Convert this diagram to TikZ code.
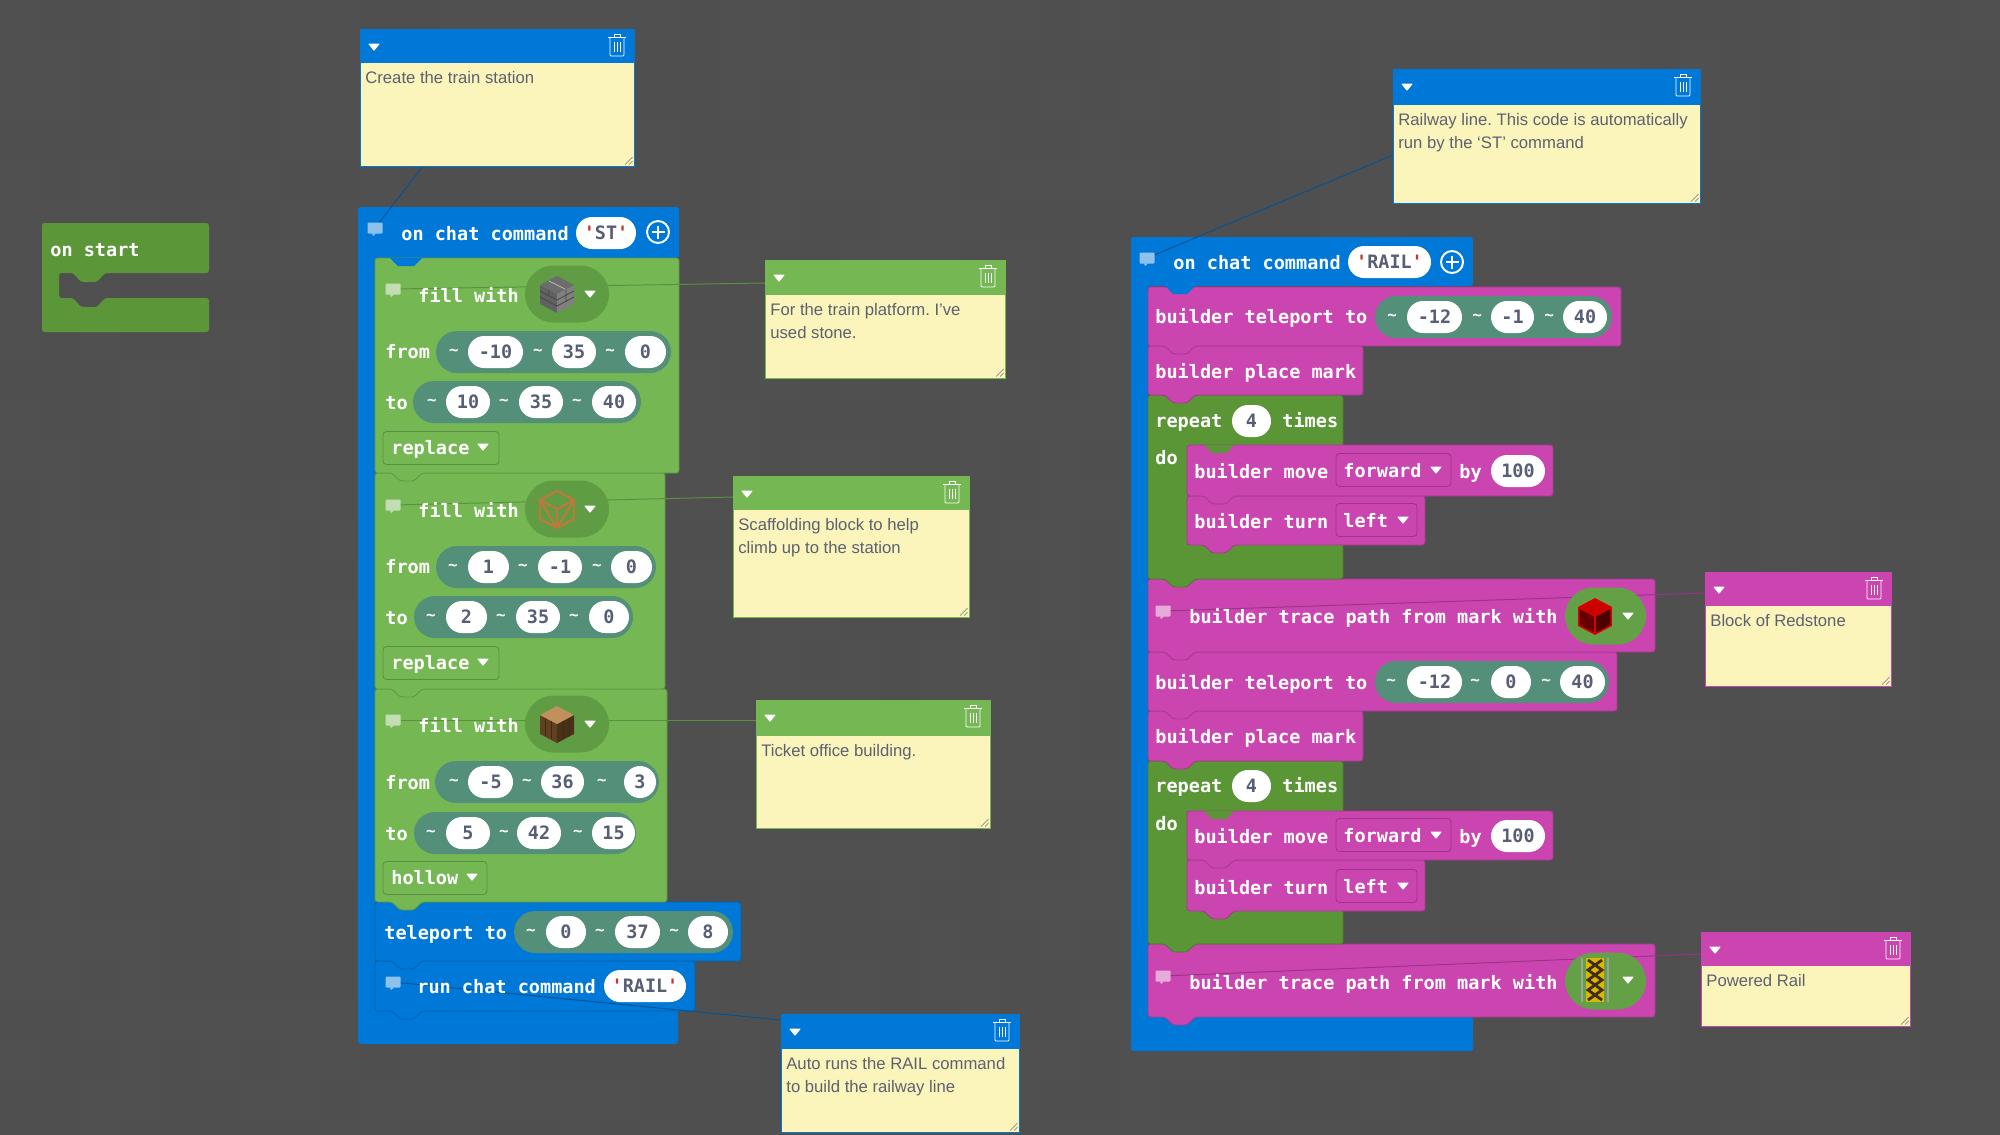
\documentclass[tikz,border=0pt]{standalone}
\usepackage{fontspec}
\usetikzlibrary{shapes.misc}
\setmainfont{Liberation Sans}
\newfontfamily\blockfont{DejaVu Sans Mono}
\frenchspacing
\definecolor{bgc}{HTML}{505050}
\definecolor{bluec}{HTML}{0078D7}
\definecolor{grnc}{HTML}{75B853}
\definecolor{dgrn}{HTML}{5F9C43}
\definecolor{lgrn}{HTML}{64A146}
\definecolor{tealc}{HTML}{548F7A}
\definecolor{pinkc}{HTML}{CB45B0}
\definecolor{repc}{HTML}{5A9636}
\definecolor{startc}{HTML}{5B9738}
\definecolor{notec}{HTML}{FBF5BC}
\definecolor{notetxt}{HTML}{5C6070}
\definecolor{pilltxt}{HTML}{575E75}
\definecolor{quotec}{HTML}{C0392B}
\definecolor{scaffc}{HTML}{B57C40}
\newdimen\px \px=0.02cm
\tikzset{
  blocktext/.style={font=\blockfont\bfseries\fontsize{10.55}{12}\selectfont,text=white,inner sep=0pt,anchor=mid west,yshift=-2*\px},
  tildetext/.style={font=\blockfont\bfseries\fontsize{9}{12}\selectfont,text=white,inner sep=0pt},
  pillnode/.style={rounded rectangle,fill=white,inner sep=0pt,font=\blockfont\bfseries\fontsize{10.5}{12}\selectfont,text=pilltxt},
  notetext/.style={font=\fontsize{9.5}{13}\selectfont,text=notetxt,inner sep=0pt,anchor=north west,align=left},
  conn/.style={line width=0.55pt},
}
\newcommand\blk[6]{\draw[fill=#5,draw=#5!82!black,line width=0.5pt,rounded corners=1.5pt]
  (#1,#2) -- (#3,#2) -- (#3,#4) -- ({#6+47},#4) -- ({#6+39},{#4+8}) -- ({#6+25},{#4+8}) -- ({#6+17},#4) -- (#1,#4) -- cycle;}
\newcommand\btxt[3]{\node[blocktext] (t#1-#2) at (#1,#2) {#3};}
\newcommand\tld[2]{\node[tildetext] (w#1-#2) at (#1,#2) {\textasciitilde};}
\newcommand\tealp[3]{\node[rounded rectangle,fill=tealc,inner sep=0pt,minimum width={(#2-#1)*\px},minimum height={42*\px}] (v#1-#3) at ({(#1+#2)/2},#3) {};}
\newcommand\pill[4]{\node[pillnode,minimum width={(#2-#1)*\px},minimum height={32*\px}] (p#1-#3) at ({(#1+#2)/2},#3) {#4};}
\newcommand\ipill[4]{\node[rounded rectangle,fill=#4,inner sep=0pt,minimum width={(#2-#1)*\px},minimum height={57*\px}] (i#1-#3) at ({(#1+#2)/2},#3) {};}
\newcommand\ddtri[2]{\fill[white,rounded corners=0.5pt] ({#1-6},{#2-3.5}) -- ({#1+6},{#2-3.5}) -- (#1,{#2+4}) -- cycle;}
\newcommand\ddown[6]{\node[draw=black,draw opacity=.22,rounded corners=2pt,inner sep=0pt,line width=0.5pt,minimum width={(#2-#1)*\px},minimum height={33*\px}] (d#1-#3) at ({(#1+#2)/2},#3) {};
  \btxt{#4}{#6}{#5}}
\newcommand\cmt[3]{\node[fill=white,fill opacity=.55,inner sep=0pt,rounded corners=0.5pt,minimum width={15*\px},minimum height={11*\px}] (#1) at (#2,#3) {};
  \fill[white,opacity=.55] ({#2-3},{#3+5.5}) -- ({#2+1},{#3+5.5}) -- ({#2-2},{#3+8}) -- cycle;}
\newcommand\plusc[2]{\draw[white,line width=1.1pt] (#1,#2) circle[radius=11];
  \draw[white,line width=1.5pt] ({#1-6.5},#2) -- ({#1+6.5},#2) (#1,{#2-6.5}) -- (#1,{#2+6.5});}
\newcommand\trash[2]{\begin{scope}[shift={(#1,#2)},white,line width=0.5pt]
  \draw[rounded corners=0.6pt] (-7,-7) -- (-7,11) -- (7,11) -- (7,-7);
  \draw (-9,-7.5) -- (9,-7.5);
  \draw (-3,-8) -- (-3,-11) -- (3,-11) -- (3,-8);
  \draw (-3,-3) -- (-3,7) (0,-3) -- (0,7) (3,-3) -- (3,7);
  \end{scope}}
% name x1 y1 x2 yh y2 colour text
\newcommand\cnote[8]{
  \node[fill=notec,draw=#7,line width=0.4pt,inner sep=0pt,minimum width={(#4-#2)*\px},minimum height={(#6-#3)*\px}] (#1) at ({(#2+#4)/2},{(#3+#6)/2}) {};
  \fill[#7] (#2,#3) rectangle (#4,#5);
  \ddtri{#2+14}{#3+18}
  \trash{#4-17}{#3+16}
  \node[notetext] (#1text) at ({#2+5},{#5+8}) {#8};
  \draw[black!45,line width=0.4pt] ({#4-9},{#6-1.5}) -- ({#4-1.5},{#6-9}) ({#4-5},{#6-1.5}) -- ({#4-1.5},{#6-5});
}
\newcommand\cubebase[3]{
  \fill[#2] (-17,-9) -- (0,0) -- (0,19) -- (-17,10) -- cycle;
  \fill[#3] (17,-9) -- (0,0) -- (0,19) -- (17,10) -- cycle;
  \fill[#1] (0,-18) -- (17,-9) -- (0,0) -- (-17,-9) -- cycle;
}
\begin{document}
\begin{tikzpicture}[x=0.02cm,y=-0.02cm]
\useasboundingbox (0,0) rectangle (2000,1134);
\fill[bgc] (0,0) rectangle (2000,1134);
\pgfmathsetseed{11}
\foreach \i in {0,...,49}{\foreach \j in {0,...,28}{
  \pgfmathsetmacro\pp{30.9+random(0,3)*0.2}
  \fill[white!\pp!black] ({\i*40},{\j*40}) rectangle ({\i*40+40},{\j*40+40});
}}
% on start
\fill[startc,rounded corners=1.5pt] (42,223) -- (209,223) -- (209,273) -- (105,273) -- (97,282) -- (81,282) -- (73,273) -- (59,273) -- (59,298) -- (73,298) -- (81,307) -- (97,307) -- (105,298) -- (209,298) -- (209,332) -- (42,332) -- cycle;
% left stack
\fill[bluec,rounded corners=1.5pt] (358,207) -- (679,207) -- (679,258) -- (375,258) -- (375,1011) -- (678,1011) -- (678,1044) -- (358,1044) -- cycle;
\blk{375}{961}{695}{1011}{bluec}{375}
\blk{375}{902}{741}{961}{bluec}{375}
\blk{375}{689}{667}{902}{grnc}{375}
\blk{375}{473}{665}{689}{grnc}{375}
\blk{375}{258}{679}{473}{grnc}{375}
\fill[bluec] (390,258) -- (398,266) -- (414,266) -- (422,258) -- cycle;
% right stack
\fill[bluec,rounded corners=1.5pt] (1131,237) -- (1473,237) -- (1473,286) -- (1148,286) -- (1148,1017) -- (1473,1017) -- (1473,1051) -- (1131,1051) -- cycle;
\blk{1148}{944}{1655}{1017}{pinkc}{1148}
\blk{1148}{761}{1343}{944}{repc}{1148}
\blk{1187}{860}{1425}{911}{pinkc}{1187}
\blk{1187}{811}{1553}{860}{pinkc}{1187}
\fill[repc] (1204,811) -- (1212,819) -- (1226,819) -- (1234,811) -- cycle;
\blk{1148}{711}{1363}{761}{pinkc}{1148}
\blk{1148}{652}{1617}{711}{pinkc}{1148}
\blk{1148}{579}{1655}{652}{pinkc}{1148}
\blk{1148}{395}{1343}{579}{repc}{1148}
\blk{1187}{496}{1425}{545}{pinkc}{1187}
\blk{1187}{445}{1553}{496}{pinkc}{1187}
\fill[repc] (1204,445) -- (1212,453) -- (1226,453) -- (1234,445) -- cycle;
\blk{1148}{346}{1363}{395}{pinkc}{1148}
\blk{1148}{287}{1621}{346}{pinkc}{1148}
\fill[bluec] (1165,286) -- (1173,294) -- (1187,294) -- (1195,286) -- cycle;
% comment icons
\cmt{cHatL}{375}{228}
\cmt{cFillA}{393}{289}
\cmt{cFillB}{393}{505}
\cmt{cFillC}{393}{720}
\cmt{cRun}{393}{982}
\cmt{cHatR}{1147}{258}
\cmt{cTraceA}{1163}{611}
\cmt{cTraceB}{1163}{976}
% attachment points on the comments
\coordinate (aTop) at (423,166);
\coordinate (aGrnA) at (765,283);
\coordinate (aGrnB) at (733,497);
\coordinate (aGrnC) at (756,720);
\coordinate (aRun) at (781,1020);
\coordinate (aRail) at (1393,155);
\coordinate (aRed) at (1705,593);
\coordinate (aPow) at (1701,954);
% connectors
\draw[conn,draw=bluec!70!black] (cHatL) -- (aTop);
\draw[conn,draw=grnc!78!black] (cFillA) -- (aGrnA);
\draw[conn,draw=grnc!78!black] (cFillB) -- (aGrnB);
\draw[conn,draw=grnc!78!black] (cFillC) -- (aGrnC);
\draw[conn,draw=bluec!70!black] (cRun) -- (aRun);
\draw[conn,draw=bluec!70!black] (cHatR) -- (aRail);
\draw[conn,draw=pinkc!75!black] (cTraceA) -- (aRed);
\draw[conn,draw=pinkc!75!black] (cTraceB) -- (aPow);
% on start text
\btxt{50}{250}{on start}
% left stack contents
\btxt{401}{234}{on chat command}
\pill{576}{636}{233}{\textcolor{quotec}{'}ST\textcolor{quotec}{'}}
\plusc{658}{232}
% fill 1
\btxt{418}{296}{fill with}
\ipill{525}{609}{294}{dgrn}
\begin{scope}[shift={(557,294)}]
  \cubebase{gray!85!black}{black!62}{black!50}
  \draw[black!72,line width=0.45pt] (-17,-3) -- (0,6) (-17,3) -- (0,12) (17,-3) -- (0,6) (17,3) -- (0,12) (-8,-4.5) -- (-8,1) (9,-4) -- (9,8);
  \draw[gray!55,line width=0.45pt] (-8,-13) -- (8,-5);
\end{scope}
\ddtri{590}{294}
\btxt{385}{352}{from}
\tealp{436}{671}{352}
\tld{454}{352}\pill{468}{523}{352}{-10}\tld{538}{352}\pill{552}{596}{352}{35}\tld{610}{352}\pill{625}{666}{352}{0}
\btxt{385}{403}{to}
\tealp{413}{641}{402}
\tld{432}{402}\pill{446}{490}{402}{10}\tld{504}{402}\pill{519}{563}{402}{35}\tld{577}{402}\pill{592}{636}{402}{40}
\ddown{383}{499}{448}{391}{replace}{448}
\ddtri{483}{447}
% fill 2
\btxt{418}{511}{fill with}
\ipill{525}{609}{509}{dgrn}
\begin{scope}[shift={(557,509)},draw=scaffc,line width=1.4pt,line join=round]
  \draw (0,-18) -- (17,-9) -- (17,10) -- (0,19) -- (-17,10) -- (-17,-9) -- cycle;
  \draw (-17,-9) -- (0,0) -- (17,-9) (0,0) -- (0,19) (-17,-9) -- (0,19) (17,-9) -- (0,19);
\end{scope}
\ddtri{590}{509}
\btxt{385}{567}{from}
\tealp{436}{656}{567}
\tld{453}{567}\pill{468}{509}{567}{1}\tld{523}{567}\pill{538}{582}{567}{-1}\tld{597}{567}\pill{611}{652}{567}{0}
\btxt{385}{618}{to}
\tealp{414}{633}{617}
\tld{431}{617}\pill{446}{487}{617}{2}\tld{501}{617}\pill{516}{560}{617}{35}\tld{574}{617}\pill{589}{629}{617}{0}
\ddown{383}{499}{663}{391}{replace}{663}
\ddtri{483}{662}
% fill 3
\btxt{418}{726}{fill with}
\ipill{525}{609}{724}{dgrn}
\begin{scope}[shift={(557,724)}]
  \cubebase{scaffc!85!white}{brown!50!black}{brown!38!black}
  \draw[brown!32!black,line width=0.5pt] (-12,-6) -- (-12,12) (-6,-3) -- (-6,15) (6,-3) -- (6,15) (12,-6) -- (12,12);
\end{scope}
\ddtri{590}{724}
\btxt{385}{783}{from}
\tealp{435}{659}{782}
\tld{454}{782}\pill{468}{513}{782}{-5}\tld{527}{782}\pill{541}{584}{782}{36}\tld{602}{782}\pill{624}{656}{782}{3}
\btxt{385}{834}{to}
\tealp{414}{636}{833}
\tld{431}{833}\pill{446}{490}{833}{5}\tld{504}{833}\pill{517}{561}{833}{42}\tld{578}{833}\pill{592}{635}{833}{15}
\ddown{383}{487}{878}{391}{hollow}{878}
\ddtri{472}{877}
% teleport
\btxt{384}{933}{teleport to}
\tealp{514}{733}{932}
\tld{531}{932}\pill{546}{586}{932}{0}\tld{600}{932}\pill{615}{660}{932}{37}\tld{674}{932}\pill{688}{728}{932}{8}
% run
\btxt{417}{987}{run chat command}
\pill{604}{686}{986}{\textcolor{quotec}{'}RAIL\textcolor{quotec}{'}}
% right stack contents
\btxt{1173}{263}{on chat command}
\pill{1348}{1431}{262}{\textcolor{quotec}{'}RAIL\textcolor{quotec}{'}}
\plusc{1452}{262}
\btxt{1155}{317}{builder teleport to}
\tealp{1375}{1612}{317}
\tld{1392}{317}\pill{1407}{1462}{317}{-12}\tld{1477}{317}\pill{1491}{1534}{317}{-1}\tld{1549}{317}\pill{1563}{1607}{317}{40}
\btxt{1155}{372}{builder place mark}
\btxt{1155}{421}{repeat}
\pill{1232}{1271}{421}{4}
\btxt{1282}{421}{times}
\btxt{1155}{458}{do}
\btxt{1194}{472}{builder move}
\ddown{1336}{1451}{470}{1343}{forward}{471}
\ddtri{1436}{470}
\btxt{1459}{472}{by}
\pill{1491}{1545}{471}{100}
\btxt{1194}{522}{builder turn}
\ddown{1336}{1417}{520}{1343}{left}{521}
\ddtri{1403}{520}
% trace 1
\btxt{1189}{617}{builder trace path from mark with}
\ipill{1565}{1646}{616}{lgrn}
\begin{scope}[shift={(1595,616)},scale=.95]
  \cubebase{red!80!black}{red!40!black}{red!30!black}
  \draw[red!85!black,line width=0.9pt,line join=round] (0,-18) -- (17,-9) -- (17,10) -- (0,19) -- (-17,10) -- (-17,-9) -- cycle (-17,-9) -- (0,0) -- (17,-9) (0,0) -- (0,19);
\end{scope}
\ddtri{1628}{616}
% teleport 2
\btxt{1155}{683}{builder teleport to}
\tealp{1375}{1609}{682}
\tld{1391}{682}\pill{1407}{1462}{682}{-12}\tld{1475}{682}\pill{1491}{1531}{682}{0}\tld{1546}{682}\pill{1560}{1605}{682}{40}
\btxt{1155}{737}{builder place mark}
\btxt{1155}{786}{repeat}
\pill{1232}{1271}{786}{4}
\btxt{1282}{786}{times}
\btxt{1155}{824}{do}
\btxt{1194}{837}{builder move}
\ddown{1336}{1451}{835}{1343}{forward}{836}
\ddtri{1436}{835}
\btxt{1459}{837}{by}
\pill{1491}{1545}{836}{100}
\btxt{1194}{888}{builder turn}
\ddown{1336}{1417}{886}{1343}{left}{887}
\ddtri{1403}{886}
% trace 2
\btxt{1189}{983}{builder trace path from mark with}
\ipill{1565}{1646}{981}{lgrn}
\begin{scope}[shift={(1595,980)}]
  \fill[orange!30!yellow!85!black] (-9,-22) rectangle (9,22);
  \draw[brown!35!black,line width=1.6pt] (-7,-20) -- (7,-10) -- (-7,0) -- (7,10) -- (-7,20) (7,-20) -- (-7,-10) -- (7,0) -- (-7,10) -- (7,20);
  \draw[gray!75,line width=0.8pt] (-13,-22) -- (-13,22) (13,-22) -- (13,22);
\end{scope}
\ddtri{1628}{980}
% comments
\cnote{nTop}{360}{29}{634}{63}{166}{bluec}{Create the train station}
\cnote{nRail}{1393}{69}{1700}{105}{203}{bluec}{Railway line. This code is automatically\\run by the ‘ST’ command}
\cnote{nGrnA}{765}{260}{1005}{295}{378}{grnc}{For the train platform. I’ve\\used stone.}
\cnote{nGrnB}{733}{476}{969}{510}{617}{grnc}{Scaffolding block to help\\climb up to the station}
\cnote{nGrnC}{756}{700}{990}{736}{828}{grnc}{Ticket office building.}
\cnote{nRun}{781}{1014}{1019}{1049}{1132}{bluec}{Auto runs the RAIL command\\to build the railway line}
\cnote{nRed}{1705}{572}{1891}{606}{686}{pinkc}{Block of Redstone}
\cnote{nPow}{1701}{932}{1910}{966}{1026}{pinkc}{Powered Rail}
\end{tikzpicture}
\end{document}
